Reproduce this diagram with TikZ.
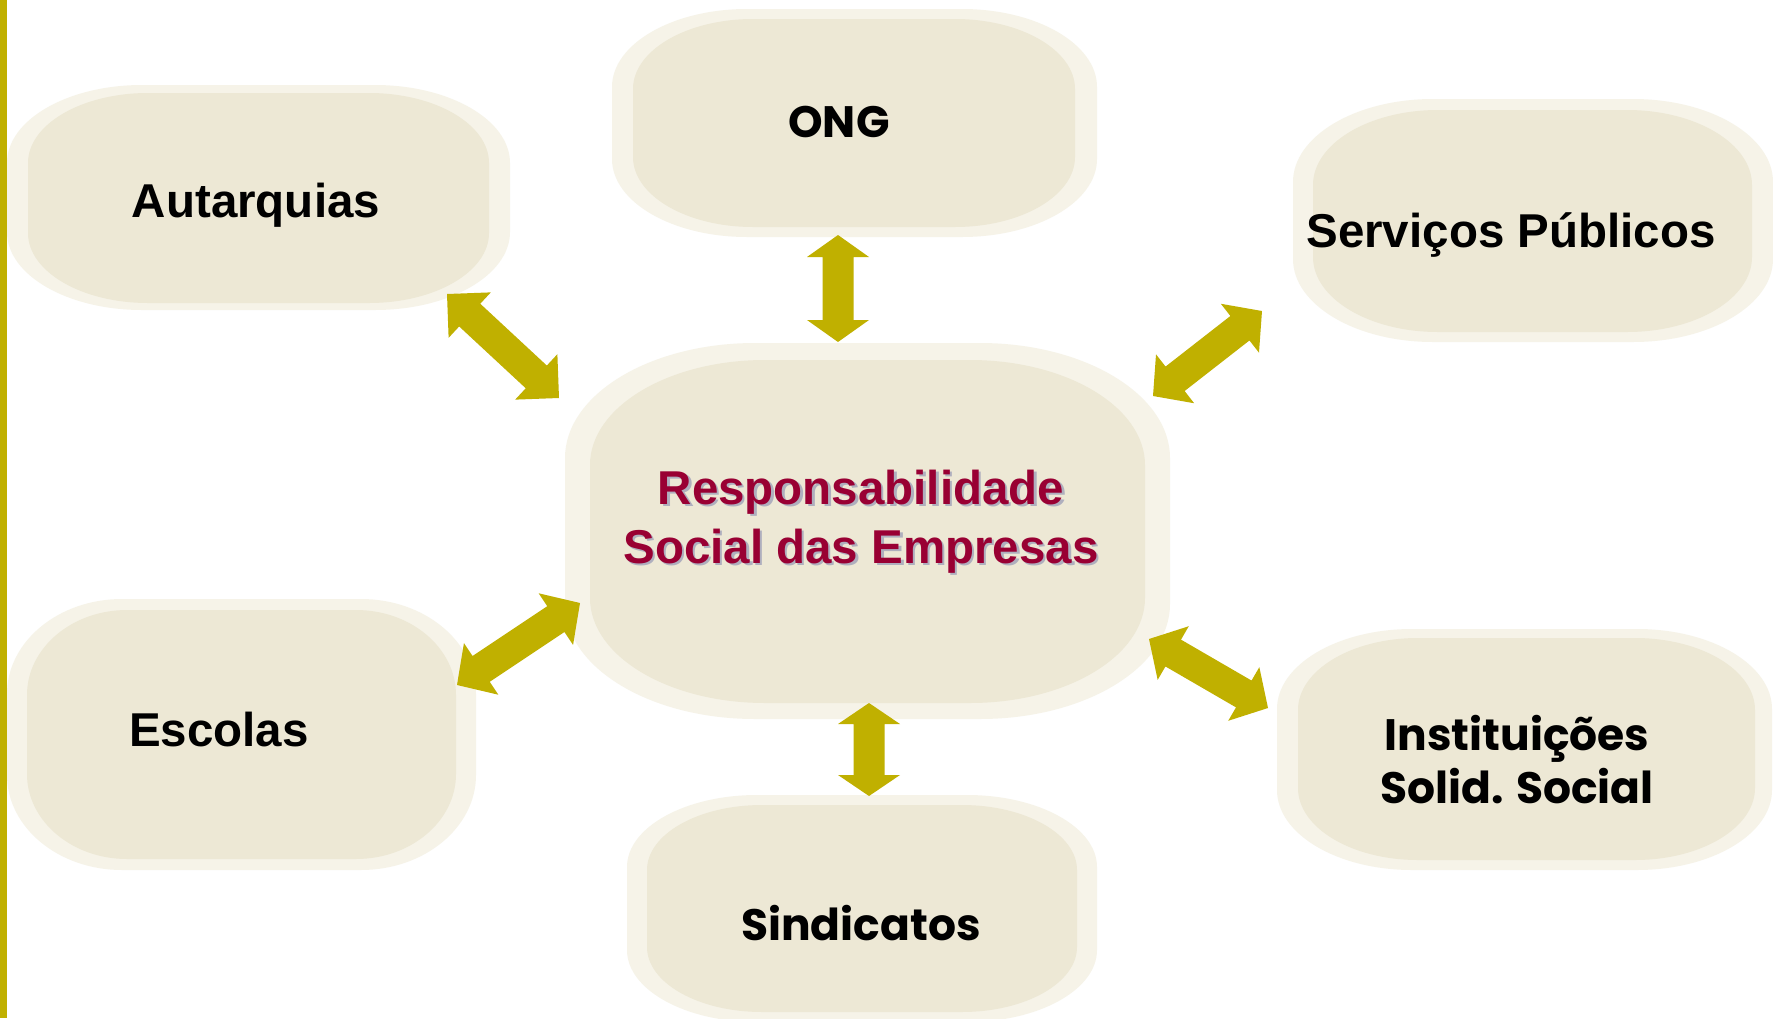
\documentclass[tikz,border=0pt]{standalone}
\usepackage{fontspec}
\setmainfont{Liberation Sans}
\newfontfamily\comicf{Poppins}
\usetikzlibrary{calc}
\definecolor{arrowc}{RGB}{192,176,0}
\definecolor{innerc}{RGB}{237,232,213}
\definecolor{outerc}{RGB}{246,243,232}
\definecolor{rsec}{RGB}{153,0,51}
\definecolor{shadowc}{RGB}{175,175,190}
% blob: x1 y1 x2 y2 rx ry style
\newcommand\blob[7]{%
  \fill[#7] (#1+#5,#2) -- (#3-#5,#2)
    .. controls (#3-0.448*#5,#2) and (#3,#2+0.448*#6) .. (#3,#2+#6)
    -- (#3,#4-#6)
    .. controls (#3,#4-0.448*#6) and (#3-0.448*#5,#4) .. (#3-#5,#4)
    -- (#1+#5,#4)
    .. controls (#1+0.448*#5,#4) and (#1,#4-0.448*#6) .. (#1,#4-#6)
    -- (#1,#2+#6)
    .. controls (#1,#2+0.448*#6) and (#1+0.448*#5,#2) .. cycle;}
% double block arrow between two named coordinates: A B headlength
\newcommand\dblarrow[3]{%
  \fill[arrowc] (#1)
    -- ($(#1)!#3!(#2)!31pt!90:(#2)$)
    -- ($(#1)!#3!(#2)!15.5pt!90:(#2)$)
    -- ($(#2)!#3!(#1)!15.5pt!-90:(#1)$)
    -- ($(#2)!#3!(#1)!31pt!-90:(#1)$)
    -- (#2)
    -- ($(#2)!#3!(#1)!31pt!90:(#1)$)
    -- ($(#2)!#3!(#1)!15.5pt!90:(#1)$)
    -- ($(#1)!#3!(#2)!15.5pt!-90:(#2)$)
    -- ($(#1)!#3!(#2)!31pt!-90:(#2)$)
    -- cycle;}
\begin{document}
\begin{tikzpicture}[x=1pt,y=-1pt,
  outerfill/.style={fill=outerc},
  innerfill/.style={fill=innerc},
  arialtxt/.style={inner sep=0pt, font=\fontsize{47.5}{57}\selectfont\bfseries, text=black},
  comictxt/.style={inner sep=0pt, font=\fontsize{44}{53}\selectfont\comicf\bfseries, text=black, align=center},
  centertxt/.style={inner sep=0pt, font=\fontsize{47.5}{59}\selectfont\bfseries, align=center}]
\useasboundingbox (0,0) rectangle (1773,1018);
\fill[white] (0,0) rectangle (1773,1018);
\fill[arrowc] (0,0) rectangle (7,1018);

% boxes
\blob{7}{85}{510}{310}{135}{78}{outerfill}
\blob{28}{93}{489}{303}{120}{70}{innerfill}
\blob{612}{9}{1097}{237}{135}{78}{outerfill}
\blob{633}{19}{1075}{227}{120}{70}{innerfill}
\blob{1293}{99}{1773}{342}{140}{83}{outerfill}
\blob{1313}{110}{1752}{332}{125}{75}{innerfill}
\blob{565}{343}{1170}{719}{190}{115}{outerfill}
\blob{590}{360}{1145}{703}{175}{105}{innerfill}
\blob{7}{599}{476}{870}{115}{95}{outerfill}
\blob{27}{610}{456}{859}{100}{85}{innerfill}
\blob{1277}{629}{1772}{870}{135}{80}{outerfill}
\blob{1298}{638}{1755}{860}{120}{72}{innerfill}
\blob{627}{795}{1097}{1022}{130}{72}{outerfill}
\blob{647}{805}{1077}{1012}{115}{65}{innerfill}

% texts
\node[arialtxt, anchor=base] (aut) at (256,217) {Autarquias};
\node[comictxt, anchor=base] (ong) at (839,137) {ONG};
\node[arialtxt, anchor=base] (serv) at (1511,247) {Serviços Públicos};
\node[centertxt, anchor=base, text=shadowc] (rseshadow) at (863.5,565.5) {Responsabilidade\\Social das Empresas};
\node[centertxt, anchor=base, text=rsec] (rse) at (861,563) {Responsabilidade\\Social das Empresas};
\node[arialtxt, anchor=base] (esc) at (219,746) {Escolas};
\node[comictxt, anchor=base] (inst) at (1517,803) {Instituições\\Solid. Social};
\node[comictxt, anchor=base] (sind) at (861,940) {Sindicatos};

% arrow end points
\coordinate (a1a) at (447,294); \coordinate (a1b) at (559,398);
\coordinate (a2a) at (838,235); \coordinate (a2b) at (838,342);
\coordinate (a3a) at (1262,311); \coordinate (a3b) at (1153,396);
\coordinate (a4a) at (580,603); \coordinate (a4b) at (457,685);
\coordinate (a5a) at (869,703); \coordinate (a5b) at (869,796);
\coordinate (a6a) at (1149,639); \coordinate (a6b) at (1268,708);

\dblarrow{a1a}{a1b}{31pt}
\dblarrow{a2a}{a2b}{22pt}
\dblarrow{a3a}{a3b}{28pt}
\dblarrow{a4a}{a4b}{29pt}
\dblarrow{a5a}{a5b}{21pt}
\dblarrow{a6a}{a6b}{28pt}
\end{tikzpicture}
\end{document}
